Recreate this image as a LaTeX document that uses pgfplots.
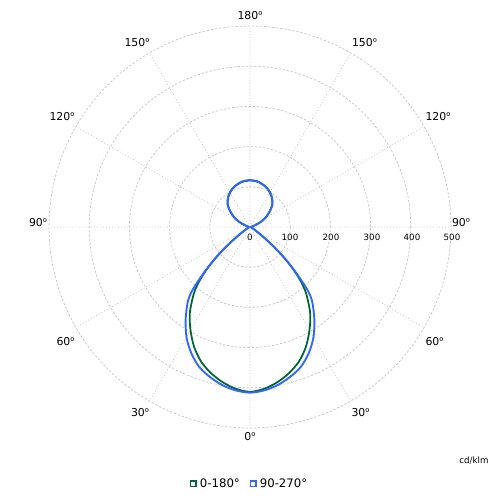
\documentclass[border=0pt]{standalone}
\usepackage{fontspec}
\setmainfont{DejaVu Sans}
\newfontfamily\ordfont{Noto Sans}
\usepackage{pgfplots}
\pgfplotsset{compat=1.18}
\usepgfplotslibrary{polar}
\definecolor{cgreen}{HTML}{006633}
\definecolor{cblue}{HTML}{3366FF}
\definecolor{cgrid}{HTML}{C4C4C4}
\newcommand{\ord}{{\ordfont º}}
\begin{document}
\begin{tikzpicture}[x=1cm,y=1cm]
\useasboundingbox (0,0) rectangle (15,15);
\begin{polaraxis}[
  at={(7.5cm,8.19cm)}, anchor=center,
  scale only axis, width=12.06cm, height=12.06cm,
  xmin=0, xmax=360, ymin=0, ymax=500,
  xtick={0,30,...,330}, xticklabels={},
  ytick={0,100,...,500}, yticklabels={},
  grid=major,
  x grid style={cgrid, line width=0.6pt, dash pattern=on 0.8pt off 1.8pt},
  y grid style={cgrid, line width=0.6pt, dash pattern=on 2pt off 1.5pt},
  axis line style={draw=none},
  major tick length=0pt,
  clip=false,
  legend image code/.code={\draw[#1] plot coordinates {(0cm,0cm)};},
  legend style={draw=none, fill=none, at={(0.5,-0.139)}, anchor=center,
    legend columns=2, font=\fontsize{10}{12}\selectfont,
    /tikz/every odd column/.append style={column sep=1.5pt},
    /tikz/every even column/.append style={column sep=7pt}},
]
% 0-180 plane
\addplot[cgreen, line width=1.5pt, smooth, tension=0.5, forget plot] coordinates {
  (90,116) (100,114) (110,108) (115,104) (120,99) (125,93) (130,86) (135,78)
  (140,66) (145,54) (150,42) (155,28) (160,15) (165,7) (170,4) (180,3)
  (190,3) (200,4) (205,6) (210,12) (215,27) (217.5,49) (220,83) (222.5,122)
  (225,160) (227.5,192) (230,218) (235,261) (240,296) (245,329) (250,356)
  (255,376) (260,392) (265,404) (270,410)
  (275,404) (280,392) (285,376) (290,356) (295,329) (300,296) (305,261)
  (310,218) (312.5,192) (315,160) (317.5,122) (320,83) (322.5,49) (325,27)
  (330,12) (335,6) (340,4) (350,3)
  (360,3) (370,4) (375,7) (380,15) (385,28) (390,42) (395,54) (400,66)
  (405,78) (410,86) (415,93) (420,99) (425,104) (430,108) (440,114) (450,116)
};
% 90-270 plane
\addplot[cblue, line width=1.6pt, smooth, tension=0.5, forget plot] coordinates {
  (90,117) (100,115) (110,109) (115,105) (120,100) (125,94) (130,87) (135,79)
  (140,67) (145,55) (150,43) (155,29) (160,16) (165,8) (170,4) (180,3)
  (190,3) (200,4) (205,6) (210,12) (215,28) (217.5,50) (220,85) (222.5,125)
  (225,165) (227.5,210) (230,240) (235,279) (240,316) (245,346) (250,370)
  (255,386) (260,399) (265,408) (270,412)
  (275,408) (280,399) (285,386) (290,370) (295,346) (300,316) (305,279)
  (310,240) (312.5,210) (315,165) (317.5,125) (320,85) (322.5,50) (325,28)
  (330,12) (335,6) (340,4) (350,3)
  (360,3) (370,4) (375,8) (380,16) (385,29) (390,43) (395,55) (400,67)
  (405,79) (410,87) (415,94) (420,100) (425,105) (430,109) (440,115) (450,117)
};
\addlegendimage{only marks, mark=square, mark size=2.3pt, cgreen, line width=1.4pt}
\addlegendentry{0-180°}
\addlegendimage{only marks, mark=square, mark size=2.3pt, cblue, line width=1.4pt}
\addlegendentry{90-270°}
\end{polaraxis}
% angle labels
\begin{scope}[every node/.style={font=\fontsize{9.3}{11}\selectfont, inner sep=0pt}]
\node at (7.5,14.53) {180\ord};
\node at (4.11,13.71) {150\ord};
\node at (10.935,13.71) {150\ord};
\node at (1.86,11.49) {120\ord};
\node at (13.14,11.49) {120\ord};
\node at (1.14,8.31) {90\ord};
\node at (13.83,8.31) {90\ord};
\node at (1.965,4.74) {60\ord};
\node at (13.035,4.74) {60\ord};
\node at (4.2,2.61) {30\ord};
\node at (10.815,2.61) {30\ord};
\node at (7.5,1.89) {0\ord};
\end{scope}
% radial labels
\begin{scope}[every node/.style={font=\fontsize{7.4}{9}\selectfont, inner sep=0pt}]
\node at (7.5,7.89) {0};
\node at (8.7,7.89) {100};
\node at (9.93,7.89) {200};
\node at (11.16,7.89) {300};
\node at (12.36,7.89) {400};
\node at (13.56,7.89) {500};
\node at (14.22,1.17) {cd/klm};
\end{scope}
\end{tikzpicture}
\end{document}
